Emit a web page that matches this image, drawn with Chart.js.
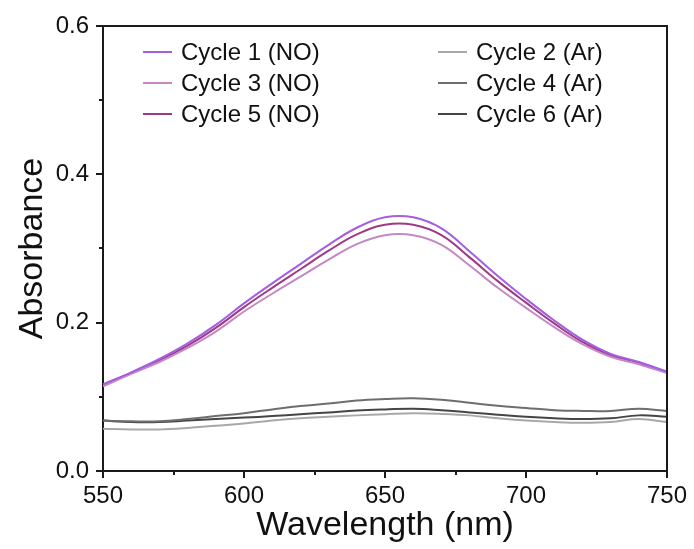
<!DOCTYPE html>
<html>
<head>
<meta charset="utf-8">
<script src="https://cdn.jsdelivr.net/npm/chart.js@4.4.1/dist/chart.umd.min.js"></script>
<style>
  html, body { margin: 0; padding: 0; background: #fff; }
  #wrap { width: 694px; height: 549px; position: relative; }
</style>
</head>
<body>
<div id="wrap"><canvas id="chart"></canvas></div>
<script>
  // Data (absorbance vs wavelength in nm)
  var wavelengths = [550, 560, 570, 580, 590, 600, 610, 620, 630, 640, 650, 660, 670, 680, 690, 700, 710, 720, 730, 740, 750];
  var cycle1 = [0.117, 0.133, 0.151, 0.172, 0.197, 0.226, 0.253, 0.279, 0.305, 0.328, 0.342, 0.342, 0.327, 0.296, 0.263, 0.232, 0.203, 0.177, 0.158, 0.147, 0.134];
  var cycle3 = [0.114, 0.131, 0.147, 0.166, 0.188, 0.215, 0.239, 0.262, 0.285, 0.306, 0.318, 0.318, 0.305, 0.277, 0.247, 0.220, 0.194, 0.171, 0.154, 0.144, 0.132];
  var cycle5 = [0.116, 0.132, 0.149, 0.169, 0.193, 0.221, 0.247, 0.272, 0.297, 0.319, 0.332, 0.332, 0.318, 0.288, 0.256, 0.227, 0.199, 0.174, 0.156, 0.146, 0.133];
  var cycle2 = [0.057, 0.056, 0.056, 0.058, 0.061, 0.064, 0.068, 0.071, 0.073, 0.075, 0.0765, 0.0778, 0.077, 0.075, 0.071, 0.068, 0.066, 0.065, 0.066, 0.070, 0.066];
  var cycle4 = [0.068, 0.067, 0.067, 0.070, 0.074, 0.078, 0.083, 0.0876, 0.091, 0.095, 0.097, 0.098, 0.096, 0.092, 0.088, 0.085, 0.082, 0.081, 0.081, 0.084, 0.081];
  var cycle6 = [0.068, 0.066, 0.066, 0.068, 0.070, 0.072, 0.074, 0.0765, 0.079, 0.0815, 0.083, 0.084, 0.082, 0.079, 0.076, 0.073, 0.071, 0.070, 0.071, 0.075, 0.073];

  var seriesNames = ["Cycle 1 (NO)", "Cycle 2 (Ar)", "Cycle 3 (NO)", "Cycle 4 (Ar)", "Cycle 5 (NO)", "Cycle 6 (Ar)"];
  var seriesValues = [cycle1, cycle2, cycle3, cycle4, cycle5, cycle6];
  var seriesColors = ["#a45ee2", "#a8a8a8", "#c488c6", "#6e6e6e", "#9e3a84", "#454545"];

  var xTicks = [550, 600, 650, 700, 750];
  var yTicks = [0.0, 0.2, 0.4, 0.6];

  var FONT = "Arial, 'Liberation Sans', sans-serif";
  var AXIS = "#1a1a1a";

  function points(values) {
    return wavelengths.map(function (w, i) { return { x: w, y: values[i] }; });
  }

  var datasets = seriesNames.map(function (name, i) {
    return {
      label: name,
      data: points(seriesValues[i]),
      borderColor: seriesColors[i],
      backgroundColor: seriesColors[i],
      borderWidth: 2,
      pointRadius: 0,
      fill: false,
      tension: 0.4,
      // NO curves drawn on top of the Ar ones
      order: name.indexOf("NO") > 0 ? 0 : 1,
    };
  });

  // Frame (top/right), minor ticks and the two-column legend
  var decorations = {
    id: "decorations",
    afterDraw: function (chart) {
      var ctx = chart.ctx;
      var a = chart.chartArea;
      var xs = chart.scales.x;
      var ys = chart.scales.y;
      ctx.save();
      ctx.strokeStyle = AXIS;
      ctx.lineWidth = 2;
      ctx.beginPath();
      ctx.moveTo(a.left, a.top);
      ctx.lineTo(a.right, a.top);
      ctx.lineTo(a.right, a.bottom);
      ctx.stroke();

      // minor ticks
      ctx.beginPath();
      for (var i = 0; i < xTicks.length - 1; i++) {
        var px = Math.round(xs.getPixelForValue((xTicks[i] + xTicks[i + 1]) / 2));
        ctx.moveTo(px, a.bottom);
        ctx.lineTo(px, a.bottom + 4);
      }
      for (var j = 0; j < yTicks.length - 1; j++) {
        var py = Math.round(ys.getPixelForValue((yTicks[j] + yTicks[j + 1]) / 2));
        ctx.moveTo(a.left, py);
        ctx.lineTo(a.left - 4, py);
      }
      ctx.stroke();

      // legend
      ctx.font = "24px " + FONT;
      ctx.textBaseline = "middle";
      ctx.textAlign = "left";
      chart.data.datasets.forEach(function (ds, k) {
        var col = k % 2;
        var row = Math.floor(k / 2);
        var lx = col === 0 ? 143 : 438;
        var ly = a.top + 26 + row * 31;
        ctx.strokeStyle = ds.borderColor;
        ctx.lineWidth = 2;
        ctx.beginPath();
        ctx.moveTo(lx, ly);
        ctx.lineTo(lx + 29, ly);
        ctx.stroke();
        ctx.fillStyle = "#111";
        ctx.fillText(ds.label, lx + 38, ly + 1);
      });
      ctx.restore();
    },
  };

  var ctx1 = document.getElementById("chart").getContext("2d");
  var myChart = new Chart(ctx1, {
    type: "line",
    data: { datasets: datasets },
    options: {
      responsive: true,
      maintainAspectRatio: false,
      animation: false,
      events: [],
      layout: { padding: { left: 0, top: 26, right: 27, bottom: 0 } },
      plugins: {
        legend: { display: false },
        tooltip: { enabled: false },
      },
      scales: {
        x: {
          type: "linear",
          min: xTicks[0],
          max: xTicks[xTicks.length - 1],
          afterBuildTicks: function (scale) {
            scale.ticks = xTicks.map(function (v) { return { value: v }; });
          },
          afterFit: function (scale) { scale.height = 78; },
          grid: { drawOnChartArea: false, drawTicks: true, tickLength: 7, color: AXIS, lineWidth: 2 },
          border: { display: true, color: AXIS, width: 2 },
          ticks: {
            color: "#111",
            padding: 4,
            maxRotation: 0,
            font: { family: FONT, size: 24 },
          },
          title: {
            display: true,
            text: "Wavelength (nm)",
            color: "#111",
            font: { family: FONT, size: 34 },
            padding: { top: 0, bottom: 3 },
          },
        },
        y: {
          type: "linear",
          min: yTicks[0],
          max: yTicks[yTicks.length - 1],
          afterBuildTicks: function (scale) {
            scale.ticks = yTicks.map(function (v) { return { value: v }; });
          },
          afterFit: function (scale) { scale.width = 103; },
          grid: { drawOnChartArea: false, drawTicks: true, tickLength: 7, color: AXIS, lineWidth: 2 },
          border: { display: true, color: AXIS, width: 2 },
          ticks: {
            color: "#111",
            padding: 7,
            font: { family: FONT, size: 24 },
            callback: function (v) { return Number(v).toFixed(1); },
          },
          title: {
            display: true,
            text: "Absorbance",
            color: "#111",
            font: { family: FONT, size: 34 },
            padding: { top: 12, bottom: 0 },
          },
        },
      },
    },
    plugins: [decorations],
  });
</script>
</body>
</html>
